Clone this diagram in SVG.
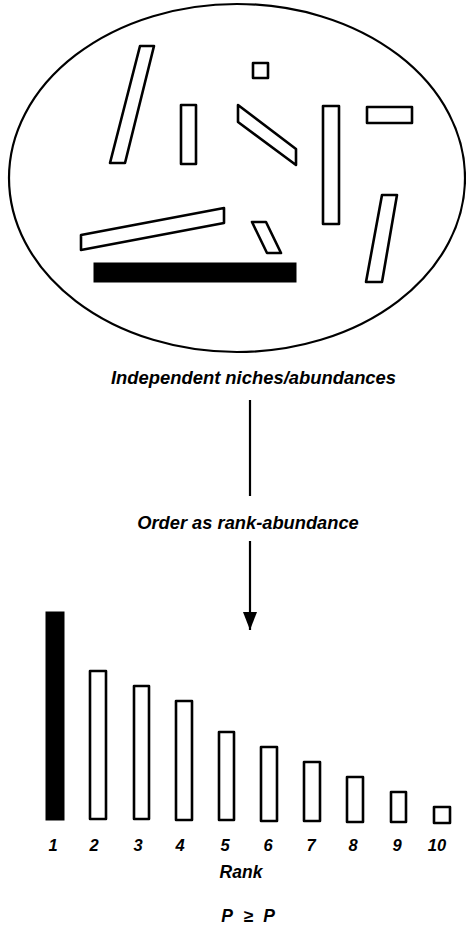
<svg xmlns="http://www.w3.org/2000/svg" width="466" height="929" viewBox="0 0 466 929">
  <style>
    .outline { fill: #fff; stroke: #000; stroke-width: 2.6; stroke-linejoin: round; }
    .solid { fill: #000; stroke: #000; stroke-width: 1; }
    .label { font-family: "Liberation Sans", Arial, sans-serif; font-style: italic; font-weight: bold; fill: #000; text-anchor: middle; }
    .conn { stroke: #000; stroke-width: 2.2; fill: none; }
  </style>
  <defs>
    <marker id="arrowhead" markerUnits="userSpaceOnUse" markerWidth="18" markerHeight="14" refX="18" refY="7" viewBox="0 0 18 14" orient="auto">
      <polygon points="0,0 18,7 0,14" fill="#000"/>
    </marker>
  </defs>
  <rect width="466" height="929" fill="#fff"/>

  <!-- community: niches of independent size -->
  <g id="community">
    <ellipse cx="237" cy="178" rx="228" ry="174" fill="none" stroke="#000" stroke-width="2.2"/>
    <polygon class="outline" points="140,46 154,46 125,163 110,163"/>
    <rect class="outline" x="253" y="63" width="15" height="15"/>
    <rect class="outline" x="181" y="105" width="15" height="59"/>
    <polygon class="outline" points="238,105 296,149 296,165 238,122"/>
    <rect class="outline" x="323" y="106" width="16" height="118"/>
    <rect class="outline" x="367" y="107" width="45" height="16"/>
    <polygon class="outline" points="81,235 224,208 224,223 81,250"/>
    <polygon class="outline" points="252,222 266,222 281,253 267,253"/>
    <rect class="solid" x="94" y="263" width="202" height="19"/>
    <polygon class="outline" points="382,195 397,195 382,282 366,282"/>
  </g>

  <g id="label-niches">
    <text class="label" x="253.5" y="384" font-size="18.4">Independent niches/abundances</text>
  </g>

  <g id="label-order">
    <text class="label" x="248" y="529" font-size="18.3">Order as rank-abundance</text>
  </g>

  <!-- connectors -->
  <g id="connectors">
    <line class="conn" x1="250" y1="400" x2="250" y2="496"/>
    <line class="conn" x1="250" y1="541" x2="250" y2="630" marker-end="url(#arrowhead)"/>
  </g>

  <!-- ranked abundances -->
  <g id="rank-bars">
    <rect class="solid" x="46" y="612" width="18" height="208"/>
    <rect class="outline" x="90" y="671" width="16" height="148"/>
    <rect class="outline" x="134" y="686" width="15" height="133"/>
    <rect class="outline" x="176" y="701" width="16" height="119"/>
    <rect class="outline" x="219" y="732" width="15" height="88"/>
    <rect class="outline" x="261" y="747" width="16" height="74"/>
    <rect class="outline" x="304" y="762" width="16" height="59"/>
    <rect class="outline" x="347" y="777" width="16" height="45"/>
    <rect class="outline" x="391" y="792" width="15" height="30"/>
    <rect class="outline" x="434" y="807" width="16" height="16"/>
  </g>

  <g id="rank-numbers" font-size="16.5">
    <text class="label" x="53" y="851">1</text>
    <text class="label" x="94" y="851">2</text>
    <text class="label" x="138" y="851">3</text>
    <text class="label" x="180" y="851">4</text>
    <text class="label" x="225" y="851">5</text>
    <text class="label" x="268" y="851">6</text>
    <text class="label" x="311" y="851">7</text>
    <text class="label" x="353" y="851">8</text>
    <text class="label" x="397" y="851">9</text>
    <text class="label" x="437" y="851">10</text>
  </g>

  <g id="axis-title">
    <text class="label" x="241" y="878" font-size="17.5">Rank</text>
  </g>

  <g id="relation" font-size="17.5">
    <text class="label" x="227" y="922">P</text>
    <text class="label" x="248" y="922">≥</text>
    <text class="label" x="269" y="922">P</text>
  </g>
</svg>
